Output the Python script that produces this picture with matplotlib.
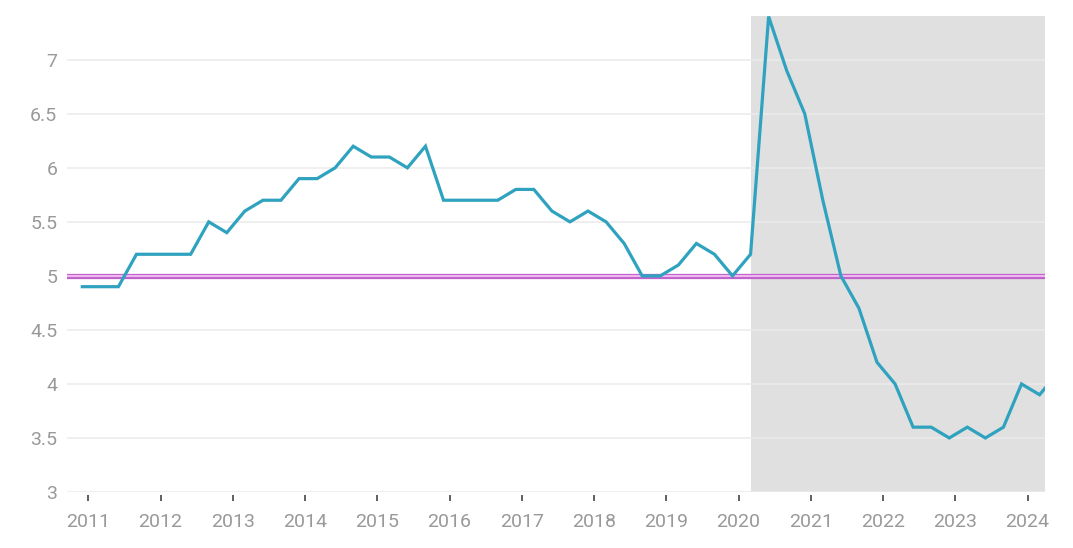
import matplotlib
matplotlib.use("Agg")
import matplotlib.pyplot as plt
import numpy as np

# Quarterly observations, first at Dec 2010, every 3 months
start_year = 2010
start_month = 12
values = [4.9, 4.9, 4.9, 5.2, 5.2, 5.2, 5.2, 5.5, 5.4, 5.6,
          5.7, 5.7, 5.9, 5.9, 6.0, 6.2, 6.1, 6.1, 6.0, 6.2,
          5.7, 5.7, 5.7, 5.7, 5.8, 5.8, 5.6, 5.5, 5.6, 5.5,
          5.3, 5.0, 5.0, 5.1, 5.3, 5.2, 5.0, 5.2, 7.4, 6.9,
          6.5, 5.7, 5.0, 4.7, 4.2, 4.0, 3.6, 3.6, 3.5, 3.6,
          3.5, 3.6, 4.0, 3.9, 4.1]
reference_level = 5.0
shade_start_index = 37
x_ticks = list(range(2011, 2025))
y_ticks = [3, 3.5, 4, 4.5, 5, 5.5, 6, 6.5, 7]
y_tick_labels = ["3", "3.5", "4", "4.5", "5", "5.5", "6", "6.5", "7"]

months_total = start_year * 12 + (start_month - 1) + 3 * np.arange(len(values))
xpos = months_total / 12.0

plt.rcParams['font.family'] = ['Roboto', 'DejaVu Sans']

fig = plt.figure(figsize=(10.73, 5.48), dpi=100)
ax = fig.add_axes([67/1073, 1 - 492/548, (1045-67)/1073, (492-16)/548])

xmin, xmax = 2010.705, 2024.242
ax.set_xlim(xmin, xmax)
ax.set_ylim(3, 7.405)

# shaded region
ax.axvspan(xpos[shade_start_index], xmax, color='#e0e0e0', zorder=0, lw=0)

# gridlines
for yv in y_ticks:
    ax.axhline(yv, color='#ebebeb', lw=1.1, zorder=1)

# reference line
ax.axhline(reference_level, color='#bf62cb', lw=3.8, zorder=2)
ax.axhline(reference_level, color='#f0b8f0', lw=1.5, zorder=2)

ax.plot(xpos, values, color='#2fa2bf', lw=2.3, zorder=3, solid_joinstyle='miter')

for s in ax.spines.values():
    s.set_visible(False)
ax.spines['bottom'].set_position(('outward', 2.5))

ax.set_xticks(x_ticks)
ax.set_xticklabels([str(t) for t in x_ticks])
ax.set_yticks(y_ticks)
ax.set_yticklabels(y_tick_labels)
ax.tick_params(axis='x', length=4, width=1.2, color='#444444', pad=8.5,
               labelsize=14, labelcolor='#999999', direction='out')
ax.tick_params(axis='y', length=0, pad=7, labelsize=14, labelcolor='#999999')

fig.savefig('out.png', dpi=100, facecolor='white')
